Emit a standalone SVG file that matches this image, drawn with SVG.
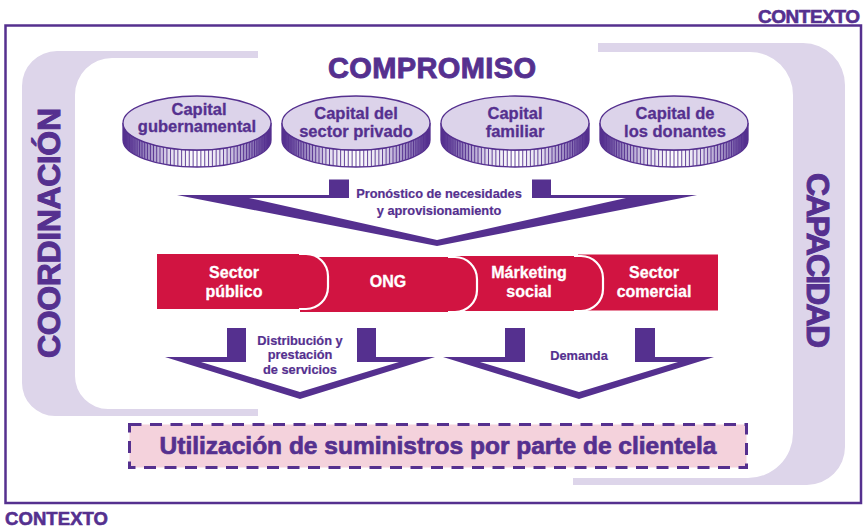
<svg xmlns="http://www.w3.org/2000/svg" width="867" height="527" viewBox="0 0 867 527">
<style>
text{font-family:"Liberation Sans",Arial,sans-serif;font-weight:bold}
.pu{fill:#55308f;stroke:#55308f;stroke-width:0.6px}
.band{fill:#ddd5ea}
.red{fill:#d11441}
.redline{fill:none;stroke:#ffffff;stroke-width:2.2}
.arrow{fill:#55308f}
.coinlbl{font-size:16.5px;fill:#55308f;text-anchor:middle;stroke:#55308f;stroke-width:0.3px}
.seglbl{font-size:16px;fill:#ffffff;text-anchor:middle;stroke:#ffffff;stroke-width:0.3px}
.arrlbl{font-size:12.8px;fill:#55308f;text-anchor:middle;stroke:#55308f;stroke-width:0.2px}
</style>
<defs>
<linearGradient id="sideGrad" gradientUnits="userSpaceOnUse" x1="-74" y1="0" x2="74" y2="0">
<stop offset="0" stop-color="#55308f"/>
<stop offset="0.12" stop-color="#8a74b6"/>
<stop offset="0.32" stop-color="#e3ddef"/>
<stop offset="0.5" stop-color="#ffffff"/>
<stop offset="0.68" stop-color="#e3ddef"/>
<stop offset="0.88" stop-color="#8a74b6"/>
<stop offset="1" stop-color="#55308f"/>
</linearGradient>
<clipPath id="sideClip"><path d="M-74,0 A74,27 0 0 0 74,0 V17 A74,27 0 0 1 -74,17 Z"/></clipPath>
<g id="coin">
<path d="M-74,0 A74,27 0 0 0 74,0 V17 A74,27 0 0 1 -74,17 Z" fill="url(#sideGrad)"/>
<path clip-path="url(#sideClip)" fill="none" stroke="#55308f" stroke-width="0.9" d="M-73.6,0V50M-73.09,0V50M-72.38,0V50M-71.48,0V50M-70.38,0V50M-69.09,0V50M-67.6,0V50M-65.93,0V50M-64.09,0V50M-62.06,0V50M-59.87,0V50M-57.51,0V50M-54.99,0V50M-52.33,0V50M-49.52,0V50M-46.57,0V50M-43.5,0V50M-40.3,0V50M-37,0V50M-33.6,0V50M-30.1,0V50M-26.52,0V50M-22.87,0V50M-19.15,0V50M-15.39,0V50M-11.58,0V50M-7.74,0V50M-3.87,0V50M0,0V50M3.87,0V50M7.74,0V50M11.58,0V50M15.39,0V50M19.15,0V50M22.87,0V50M26.52,0V50M30.1,0V50M33.6,0V50M37,0V50M40.3,0V50M43.5,0V50M46.57,0V50M49.52,0V50M52.33,0V50M54.99,0V50M57.51,0V50M59.87,0V50M62.06,0V50M64.09,0V50M65.93,0V50M67.6,0V50M69.09,0V50M70.38,0V50M71.48,0V50M72.38,0V50M73.09,0V50M73.6,0V50"/>
<path d="M-74,0 A74,27 0 0 0 74,0 V17 A74,27 0 0 1 -74,17 Z" fill="none" stroke="#55308f" stroke-width="1.3"/>
<ellipse cx="0" cy="0" rx="74" ry="27" fill="#dcd3ea" stroke="#55308f" stroke-width="1.3"/>
</g>
</defs>

<rect x="0" y="0" width="867" height="527" fill="#ffffff"/>

<g id="contexto-frame">
<rect x="5.5" y="25.5" width="855.5" height="477.5" fill="none" stroke="#55308f" stroke-width="2.5"/>
<text class="pu" x="860" y="23" font-size="19" text-anchor="end" textLength="102">CONTEXTO</text>
<text class="pu" x="5" y="524.5" font-size="18.5" textLength="103">CONTEXTO</text>
</g>

<g id="coordinacion">
<path class="band" d="M258,51 H57 A35,35 0 0 0 22,86 V383 A33,33 0 0 0 55,416 H258 V409 H108 A33,33 0 0 1 75,376 V95 A37,37 0 0 1 112,58 H258 Z"/>
<text class="pu" transform="translate(60,233) rotate(-90)" font-size="32" text-anchor="middle" textLength="250" style="stroke-width:1px">COORDINACIÓN</text>
</g>

<g id="capacidad">
<path class="band" d="M598,43 H803 A42,42 0 0 1 845,85 V447 A38,38 0 0 1 807,485 H573 V478 H748 A45,45 0 0 0 793,433 V95 A43,43 0 0 0 750,52 H598 Z"/>
<text class="pu" transform="translate(807,260.5) rotate(90)" font-size="32" text-anchor="middle" textLength="175" style="stroke-width:1px">CAPACIDAD</text>
</g>

<g id="compromiso">
<text class="pu" x="432" y="78" font-size="29" text-anchor="middle" textLength="208" style="stroke-width:0.9px">COMPROMISO</text>
</g>

<g id="coin-gubernamental">
<use href="#coin" x="197" y="123"/>
<text class="coinlbl" x="199" y="115">Capital</text>
<text class="coinlbl" x="197" y="132">gubernamental</text>
</g>
<g id="coin-privado">
<use href="#coin" x="356" y="123"/>
<text class="coinlbl" x="356" y="119">Capital del</text>
<text class="coinlbl" x="356" y="137">sector privado</text>
</g>
<g id="coin-familiar">
<use href="#coin" x="515" y="123"/>
<text class="coinlbl" x="515" y="119">Capital</text>
<text class="coinlbl" x="515" y="137">familiar</text>
</g>
<g id="coin-donantes">
<use href="#coin" x="674" y="123"/>
<text class="coinlbl" x="675" y="119">Capital de</text>
<text class="coinlbl" x="675" y="137">los donantes</text>
</g>

<g id="connectors">
<path class="arrow" d="M177,195 H329 V179.5 H349 V198 H249 L437,240 L626,198 H532 V179.5 H551 V195 H697 L437,246 Z"/>
<path class="arrow" d="M165,357 H227 V328 H246 V362 H201 L300,392 L399,362 H357 V328 H376 V357 H435 L300,399 Z"/>
<path class="arrow" d="M443,357 H505 V328 H525 V362 H480 L579,392 L678,362 H635 V328 H655 V357 H714 L579,399 Z"/>
</g>

<g id="arrow-labels">
<text class="arrlbl" x="439" y="198">Pronóstico de necesidades</text>
<text class="arrlbl" x="439" y="215">y aprovisionamiento</text>
<text class="arrlbl" x="300" y="345">Distribución y</text>
<text class="arrlbl" x="300" y="359">prestación</text>
<text class="arrlbl" x="300" y="374">de servicios</text>
<text class="arrlbl" x="579" y="360">Demanda</text>
</g>

<g id="sector-comercial">
<path class="red" d="M578,254.5 H718 V310.5 H578 Z"/>
<text class="seglbl" x="654" y="278">Sector</text>
<text class="seglbl" x="654" y="297">comercial</text>
</g>
<g id="marketing-social">
<path class="red" d="M450,256 H581 A22,22 0 0 1 603,278 V289 A22,22 0 0 1 581,311 H450 Z"/>
<path class="redline" d="M574,256 H581 A22,22 0 0 1 603,278 V289 A22,22 0 0 1 581,311 H574"/>
<text class="seglbl" x="529" y="278">Márketing</text>
<text class="seglbl" x="529" y="297">social</text>
</g>
<g id="ong">
<path class="red" d="M300,257 H455 A22,22 0 0 1 477,279 V290 A22,22 0 0 1 455,312 H300 Z"/>
<path class="redline" d="M448,257 H455 A22,22 0 0 1 477,279 V290 A22,22 0 0 1 455,312 H448"/>
<text class="seglbl" x="388" y="287">ONG</text>
</g>
<g id="sector-publico">
<path class="red" d="M157,254 H306 A22,22 0 0 1 328,276 V287 A22,22 0 0 1 306,309 H157 Z"/>
<path class="redline" d="M299,254 H306 A22,22 0 0 1 328,276 V287 A22,22 0 0 1 306,309 H299"/>
<text class="seglbl" x="234" y="278">Sector</text>
<text class="seglbl" x="234" y="297">público</text>
</g>

<g id="utilizacion">
<rect x="129.5" y="424.5" width="617" height="43" fill="#f4d2dc" stroke="#55308f" stroke-width="3" stroke-dasharray="12 8.5"/>
<text class="pu" x="438" y="454" font-size="24.5" text-anchor="middle" style="stroke-width:0.7px">Utilización de suministros por parte de clientela</text>
</g>
</svg>
